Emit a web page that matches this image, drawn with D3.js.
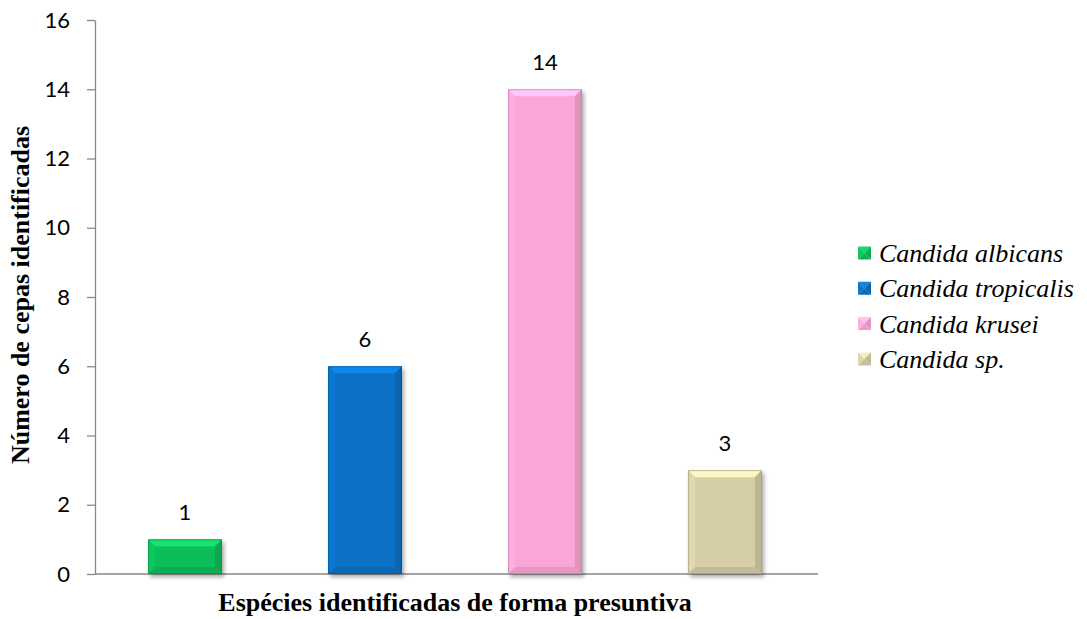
<!DOCTYPE html>
<html>
<head>
<meta charset="utf-8">
<script src="https://cdn.jsdelivr.net/npm/d3@7"></script>
<style>
  html, body { margin: 0; padding: 0; background: #fff; }
  svg { display: block; }
  .serif { font-family: "Liberation Serif", "Times New Roman", Times, serif; }
  .sans { font-family: Lato, "Open Sans", sans-serif; }
</style>
</head>
<body>
<svg id="chart" width="1087" height="619"></svg>
<script>
// Strains identified per Candida species
const species = ["Candida albicans", "Candida tropicalis", "Candida krusei", "Candida sp."];
const counts = [1, 6, 14, 3];
const yTicks = [0, 2, 4, 6, 8, 10, 12, 14, 16];
const colors = ["#10bd5a", "#0872c6", "#fba6d6", "#d6cea6"];

const svg = d3.select("#chart");
const plot = { left: 95, right: 815, top: 20, bottom: 574 };

const x = d3.scaleBand().domain(species).range([plot.left, plot.right]).paddingInner(0.59).paddingOuter(0.295);
const y = d3.scaleLinear().domain([0, 16]).range([plot.bottom, plot.top]);

const defs = svg.append("defs");
const shadow = defs.append("filter").attr("id", "shadow")
  .attr("x", "-20%").attr("y", "-20%").attr("width", "150%").attr("height", "150%");
shadow.append("feDropShadow").attr("dx", 2).attr("dy", 3).attr("stdDeviation", 2.2)
  .attr("flood-color", "#000").attr("flood-opacity", 0.35);

// Y axis
const yAxis = d3.axisLeft(y).tickValues(yTicks).tickSize(8).tickPadding(17).tickSizeOuter(0);
const gy = svg.append("g").attr("transform", `translate(${plot.left},0)`).call(yAxis);
gy.attr("font-family", null).attr("font-size", null);
gy.select(".domain").attr("stroke", "#888").attr("stroke-width", 1.3);
gy.selectAll(".tick line").attr("stroke", "#888").attr("stroke-width", 1.3);
gy.selectAll(".tick text").attr("class", "sans").style("font-size", "22px").attr("fill", "#000");

// X baseline
svg.append("line").attr("x1", plot.left).attr("x2", plot.right + 3)
  .attr("y1", y(0)).attr("y2", y(0)).attr("stroke", "#888").attr("stroke-width", 1.6);

// Bevelled bars
const bev = 7;
const bars = svg.append("g").selectAll("g").data(species).join("g")
  .attr("filter", "url(#shadow)");

bars.each(function(d, i) {
  const g = d3.select(this);
  const x0 = x(d), w = x.bandwidth();
  const y0 = y(counts[i]), y1 = y(0);
  const h = y1 - y0;
  const c = d3.color(colors[i]);
  const b = Math.min(bev, h / 2, w / 2);
  g.append("rect").attr("x", x0).attr("y", y0).attr("width", w).attr("height", h).attr("fill", c);
  g.append("polygon").attr("points", [[x0, y0], [x0 + w, y0], [x0 + w - b, y0 + b], [x0 + b, y0 + b]].join(" "))
    .attr("fill", c.brighter(0.5));
  g.append("polygon").attr("points", [[x0, y0], [x0 + b, y0 + b], [x0 + b, y1 - b], [x0, y1]].join(" "))
    .attr("fill", c.brighter(0.15));
  g.append("polygon").attr("points", [[x0 + w, y0], [x0 + w, y1], [x0 + w - b, y1 - b], [x0 + w - b, y0 + b]].join(" "))
    .attr("fill", c.darker(0.35));
  g.append("polygon").attr("points", [[x0, y1], [x0 + b, y1 - b], [x0 + w - b, y1 - b], [x0 + w, y1]].join(" "))
    .attr("fill", c.darker(0.25));
  g.append("rect").attr("x", x0 + 0.5).attr("y", y0 + 0.5).attr("width", w - 1).attr("height", h - 1)
    .attr("fill", "none").attr("stroke", c.darker(0.9)).attr("stroke-width", 1).attr("stroke-opacity", 0.6);
});

// Value labels
svg.append("g").selectAll("text").data(species).join("text")
  .attr("class", "sans")
  .attr("x", d => x(d) + x.bandwidth() / 2)
  .attr("y", (d, i) => y(counts[i]) - 19)
  .attr("text-anchor", "middle")
  .style("font-size", "22px").attr("fill", "#000")
  .text((d, i) => counts[i]);

// Axis titles
svg.append("text").attr("class", "serif").attr("x", 455).attr("y", 611).attr("text-anchor", "middle")
  .style("font-weight", "bold").style("font-size", "26px")
  .text("Espécies identificadas de forma presuntiva");
svg.append("text").attr("class", "serif").attr("transform", "translate(29,295) rotate(-90)")
  .attr("text-anchor", "middle")
  .style("font-weight", "bold").style("font-size", "26px")
  .text("Número de cepas identificadas");

// Legend
const legend = svg.append("g").attr("transform", "translate(858,253)");
const rows = legend.selectAll("g").data(species).join("g")
  .attr("transform", (d, i) => `translate(0,${i * 35.3})`);
rows.each(function(d, i) {
  const g = d3.select(this);
  const s = 13, x0 = 0, y0 = -6.5;
  const c = d3.color(colors[i]);
  const cx = x0 + s / 2, cy = y0 + s / 2;
  g.append("polygon").attr("points", [[x0, y0], [x0 + s, y0], [cx, cy]].join(" ")).attr("fill", c.brighter(0.4));
  g.append("polygon").attr("points", [[x0, y0], [cx, cy], [x0, y0 + s]].join(" ")).attr("fill", c.brighter(0.1));
  g.append("polygon").attr("points", [[x0 + s, y0], [x0 + s, y0 + s], [cx, cy]].join(" ")).attr("fill", c.darker(0.3));
  g.append("polygon").attr("points", [[x0, y0 + s], [cx, cy], [x0 + s, y0 + s]].join(" ")).attr("fill", c.darker(0.2));
  g.append("text").attr("class", "serif").attr("x", 21).attr("y", 9)
    .style("font-style", "italic").style("font-size", "26px").text(d);
});
</script>
</body>
</html>
